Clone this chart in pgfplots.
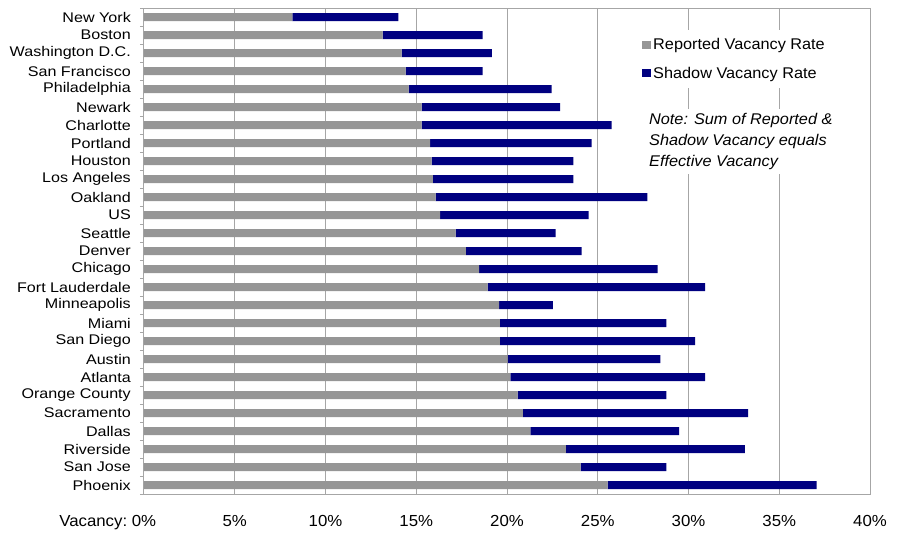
\documentclass[border=0pt]{standalone}
\usepackage{pgfplots}
\usepackage{pgfplotstable}
\pgfplotsset{compat=1.18}
\usepackage{fontspec}
\setmainfont{Liberation Sans}[FakeStretch=1.05]
\newfontfamily\ylabfont{Liberation Sans}[FakeStretch=1.15]
\definecolor{repgray}{RGB}{150,150,150}
\definecolor{shadblue}{RGB}{0,0,128}
\definecolor{gridgray}{RGB}{166,166,166}

\pgfplotstableread{
idx rep shad
0 8.17 5.84
1 13.15 5.51
2 14.20 4.96
3 14.42 4.24
4 14.58 7.88
5 15.30 7.62
6 15.30 10.47
7 15.76 8.90
8 15.85 7.80
9 15.92 7.73
10 16.07 11.66
11 16.31 8.19
12 17.17 5.51
13 17.74 6.37
14 18.46 9.84
15 18.93 11.98
16 19.56 2.97
17 19.61 9.17
18 19.61 10.75
19 20.04 8.41
20 20.18 10.73
21 20.59 8.19
22 20.88 12.40
23 21.29 8.20
24 23.25 9.86
25 24.06 4.72
26 25.55 11.51
}\vacdata

\begin{document}
\begin{tikzpicture}
\begin{axis}[
  scale only axis, width=726pt, height=486pt,
  xbar stacked, bar width=8pt,
  xmin=0, xmax=40, ymin=-0.5, ymax=26.5, y dir=reverse,
  xtick={0,5,...,40},
  xticklabels={\makebox[0pt][r]{Vacancy:\ }0\%,5\%,10\%,15\%,20\%,25\%,30\%,35\%,40\%},
  ytick={0,...,26},
  yticklabels={New York,Boston,Washington D.C.,San Francisco,Philadelphia,Newark,Charlotte,Portland,Houston,Los Angeles,Oakland,US,Seattle,Denver,Chicago,Fort Lauderdale,Minneapolis,Miami,San Diego,Austin,Atlanta,Orange County,Sacramento,Dallas,Riverside,San Jose,Phoenix},
  minor ytick={-0.5,0.5,...,26.5},
  tick pos=left,
  major tick length=0pt, minor tick length=4pt, tick align=outside,
  xmajorgrids, major grid style={gridgray, line width=1pt},
  axis line style={gridgray, line width=1pt},
  minor tick style={gridgray, line width=0.8pt},
  yticklabel style={font=\ylabfont\fontsize{14}{15}\selectfont, inner sep=0pt, xshift=-13pt},
  xticklabel style={font=\fontsize{16}{17}\selectfont, inner sep=0pt, yshift=-21pt},
  legend style={at={(axis description cs:0.6777,0.9547)}, anchor=north west, draw=none, fill=white,
    font=\fontsize{15.5}{16}\selectfont, row sep=12pt, inner sep=6pt},
  legend cell align=left,
  legend image code/.code={\fill[#1] (0pt,-4pt) rectangle (9pt,4pt);},
]
\addplot[fill=repgray, draw=none] table[x=rep, y=idx] {\vacdata};
\addplot[fill=shadblue, draw=none] table[x=shad, y=idx] {\vacdata};
\legend{Reported Vacancy Rate, Shadow Vacancy Rate}
\node[anchor=north west, fill=white, inner sep=4pt, align=left,
  font=\itshape\fontsize{15.5}{21}\selectfont] at (axis description cs:0.690,0.7922)
  {Note: Sum of Reported \&\\Shadow Vacancy equals\\Effective Vacancy};
\end{axis}
\pgfresetboundingbox
\path ([xshift=-144pt,yshift=-39pt]current axis.south west) rectangle ([xshift=28pt,yshift=8pt]current axis.north east);
\end{tikzpicture}
\end{document}
